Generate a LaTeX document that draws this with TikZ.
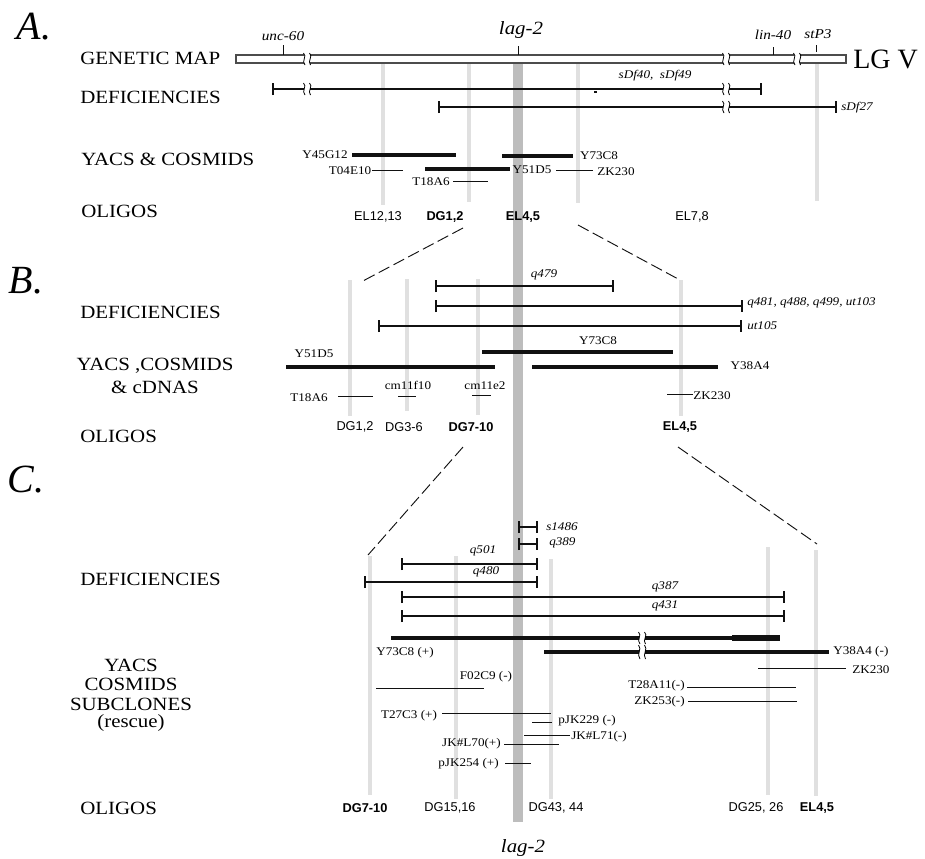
\documentclass[tikz,border=0pt]{standalone}
\usepackage{fontspec}
\setmainfont{Liberation Serif}
\setsansfont{Liberation Sans}
\newfontfamily\palish[FakeStretch=1.12]{Liberation Serif}
\usetikzlibrary{arrows.meta}
\definecolor{lightbar}{HTML}{E0E0E0}
\definecolor{midbar}{HTML}{BDBDBD}
\definecolor{inkline}{HTML}{111111}
\tikzset{
  px/.style={x=0.75pt,y=-0.75pt},
  heading/.style={anchor=west,inner sep=0pt,font=\fontsize{14}{16}\selectfont\palish},
  headc/.style={inner sep=0pt,align=center,font=\fontsize{14}{16}\selectfont\palish},
  letterlab/.style={inner sep=0pt,font=\fontsize{30}{32}\selectfont\itshape},
  genelab/.style={inner sep=0pt,font=\fontsize{10.2}{12}\selectfont\palish\itshape},
  biglab/.style={inner sep=0pt,font=\fontsize{14}{16}\selectfont\palish\itshape},
  dellab/.style={inner sep=0pt,font=\fontsize{8.8}{10}\selectfont\palish\itshape},
  clonelab/.style={inner sep=0pt,font=\fontsize{8.8}{10}\selectfont\palish},
  oligo/.style={inner sep=0pt,font=\fontsize{9.6}{11}\selectfont\sffamily},
  oligob/.style={oligo,font=\fontsize{9.6}{11}\selectfont\sffamily\bfseries},
  lbar/.style={line width=3pt,lightbar},
  cbar/.style={line width=8pt,midbar},
  defline/.style={line width=1.2pt,inkline},
  defends/.style={defline,{Bar[width=9pt,line width=1.5pt]}-{Bar[width=9pt,line width=1.5pt]}},
  thick clone/.style={line width=3pt,inkline},
  thin clone/.style={line width=0.7pt,inkline},
  zoomdash/.style={line width=0.7pt,dash pattern=on 9pt off 3.5pt,inkline},
  tickmark/.style={line width=0.6pt,inkline},
  mapbox/.style={line width=0.8pt,draw=black!70,fill=white},
}
\newcommand{\gapmark}[3]{% x, y, half height
  \fill[white] (#1-3,#2-#3) rectangle (#1+3,#2+#3);
  \draw[line width=0.6pt,black] (#1-3.5,#2-#3) .. controls (#1+0.5,#2-#3*0.4) and (#1-6,#2+#3*0.3) .. (#1-2,#2+#3);
  \draw[line width=0.6pt,black] (#1+2.5,#2-#3) .. controls (#1+6.5,#2-#3*0.4) and (#1,#2+#3*0.3) .. (#1+3.5,#2+#3);
}
\begin{document}
\begin{tikzpicture}[px]
\useasboundingbox (0,0) rectangle (925,858);
% central bar and oligo bars
\draw[cbar] (518,63) -- (518,822);
\foreach \x/\t/\b in {383/63/205,469/63/202,578/63/203,817/63/201,
  350/280/416,407/279/411,478/279/415,681/280/416,
  370/556/795,456/556/799,551/559/799,768/547/795,816/550/796}
  \draw[lbar] (\x,\t) -- (\x,\b);
% Panel A
\node[letterlab] (la) at (34,27) {A.};
\node[heading] (h1) at (80,58) {GENETIC MAP};
\node[heading] (h2) at (80,97) {DEFICIENCIES};
\node[heading] (h3) at (81,159) {YACS \& COSMIDS};
\node[heading] (h4) at (81,211) {OLIGOS};
\draw[mapbox] (236,55) rectangle (846,63);
\gapmark{307}{59}{6}\gapmark{726}{59}{6}\gapmark{797}{59}{6}
\draw[tickmark] (283,45) -- (283,55);
\draw[tickmark] (518,46) -- (518,55);
\draw[tickmark] (773,47) -- (773,55);
\draw[tickmark] (816,45) -- (816,52);
\node[genelab] (g1) at (283,36) {unc-60};
\node[biglab] (g2) at (521,30) {lag-2};
\node[genelab] (g3) at (773,35) {lin-40};
\node[genelab] (g4) at (818,34) {stP3};
\node[inner sep=0pt,anchor=west,font=\fontsize{21}{23}\selectfont] (lgv) at (853,59) {LG V};
\draw[defends] (272,89) -- (762,89);
\draw[line width=1.8pt,inkline] (500,89) -- (533,89);
\draw[defends] (438,107) -- (837,107);
\draw[line width=1.8pt,inkline] (455,107) -- (484,107) (601,107) -- (672,107);
\fill[inkline] (594,91) rectangle (597,93);
\gapmark{307}{89}{6}\gapmark{726}{89}{6}\gapmark{726}{107}{6}
\node[dellab] (d1) at (655,76) {sDf40,\ \ sDf49};
\node[dellab,anchor=west] (d2) at (841,108) {sDf27};
\draw[thick clone] (352,155) -- (456,155);
\draw[thick clone] (502,156) -- (573,156);
\draw[thick clone] (425,169) -- (510,169);
\draw[thin clone] (372,170) -- (403,170);
\draw[thin clone] (556,170) -- (593,170);
\draw[thin clone] (453,181) -- (488,181);
\node[clonelab] (a1) at (325,155) {Y45G12};
\node[clonelab] (a2) at (350,171) {T04E10};
\node[clonelab] (a3) at (431,182) {T18A6};
\node[clonelab] (a4) at (532,170) {Y51D5};
\node[clonelab] (a5) at (599,156) {Y73C8};
\node[clonelab] (a6) at (616,172) {ZK230};
\node[oligo] (o1) at (378,217) {EL12,13};
\node[oligob] (o2) at (445,217) {DG1,2};
\node[oligob] (o3) at (523,217) {EL4,5};
\node[oligo] (o4) at (692,217) {EL7,8};
% zoom lines A-B
\coordinate (za1) at (463,228); \coordinate (za2) at (361,282);
\coordinate (zb1) at (578,225); \coordinate (zb2) at (680,280);
\draw[zoomdash] (za1) -- (za2);
\draw[zoomdash] (zb1) -- (zb2);
% Panel B
\node[letterlab] (lb) at (26,281) {B.};
\node[heading] (h5) at (80,312) {DEFICIENCIES};
\node[headc] (h6) at (155,366) {YACS ,COSMIDS};
\node[headc] (h7) at (155,387) {\& cDNAS};
\node[heading] (h8) at (80,436) {OLIGOS};
\draw[defends] (435,286) -- (614,286);
\draw[defends] (435,306) -- (743,306);
\draw[defends] (378,326) -- (742,326);
\node[dellab] (d3) at (544,275) {q479};
\node[dellab,anchor=west] (d4) at (747,303) {q481, q488, q499, ut103};
\node[dellab,anchor=west] (d5) at (747,326) {ut105};
\draw[thick clone] (482,352) -- (673,352);
\draw[thick clone] (286,367) -- (495,367);
\draw[thick clone] (532,367) -- (718,367);
\draw[thin clone] (338,396) -- (373,396);
\draw[thin clone] (398,396) -- (416,396);
\draw[thin clone] (472,395) -- (491,395);
\draw[thin clone] (667,394) -- (693,394);
\node[clonelab] (b1) at (598,341) {Y73C8};
\node[clonelab] (b2) at (314,354) {Y51D5};
\node[clonelab] (b3) at (750,366) {Y38A4};
\node[clonelab] (b4) at (309,398) {T18A6};
\node[clonelab] (b5) at (408,385) {cm11f10};
\node[clonelab] (b6) at (485,386) {cm11e2};
\node[clonelab] (b7) at (712,396) {ZK230};
\node[oligo] (o5) at (355,427) {DG1,2};
\node[oligo] (o6) at (404,427) {DG3-6};
\node[oligob] (o7) at (471,427) {DG7-10};
\node[oligob] (o8) at (680,427) {EL4,5};
% zoom lines B-C
\coordinate (zc1) at (463,447); \coordinate (zc2) at (368,555);
\coordinate (zd1) at (678,447); \coordinate (zd2) at (817,544);
\draw[zoomdash] (zc1) -- (zc2);
\draw[zoomdash] (zd1) -- (zd2);
% Panel C
\node[letterlab] (lc) at (26,480) {C.};
\node[heading] (h9) at (80,579) {DEFICIENCIES};
\node[headc] (h10) at (131,665) {YACS};
\node[headc] (h11) at (131,684) {COSMIDS};
\node[headc] (h12) at (131,704) {SUBCLONES};
\node[headc] (h13) at (131,723) {(rescue)};
\node[heading] (h14) at (80,808) {OLIGOS};
\draw[defends] (518,527) -- (538,527);
\draw[defends] (518,544) -- (538,544);
\draw[defends] (401,564) -- (538,564);
\draw[defends] (364,582) -- (538,582);
\draw[defends] (401,597) -- (785,597);
\draw[defends] (401,616) -- (785,616);
\node[dellab,anchor=west] (d6) at (546,527) {s1486};
\node[dellab,anchor=west] (d7) at (549,543) {q389};
\node[dellab] (d8) at (483,551) {q501};
\node[dellab] (d9) at (486,572) {q480};
\node[dellab] (d10) at (665,587) {q387};
\node[dellab] (d11) at (665,606) {q431};
\draw[thick clone] (391,638) -- (780,638);
\draw[line width=3.8pt,inkline] (732,638) -- (780,638);
\draw[thick clone] (544,652) -- (829,652);
\gapmark{642}{638}{6}\gapmark{642}{652}{7}
\draw[thin clone] (758,668) -- (846,668);
\draw[thin clone] (687,687) -- (796,687);
\draw[thin clone] (688,701) -- (797,701);
\draw[thin clone] (376,688) -- (484,688);
\draw[thin clone] (442,713) -- (551,713);
\draw[thin clone] (532,722) -- (552,722);
\draw[thin clone] (524,735) -- (570,735);
\draw[thin clone] (504,744) -- (559,744);
\draw[thin clone] (505,763) -- (531,763);
\node[clonelab] (c1) at (405,653) {Y73C8 (+)};
\node[clonelab,anchor=west] (c2) at (833,652) {Y38A4 (-)};
\node[clonelab,anchor=west] (c3) at (852,670) {ZK230};
\node[clonelab,anchor=east] (c4) at (685,686) {T28A11(-)};
\node[clonelab,anchor=east] (c5) at (685,702) {ZK253(-)};
\node[clonelab] (c6) at (486,677) {F02C9 (-)};
\node[clonelab] (c7) at (409,716) {T27C3 (+)};
\node[clonelab] (c8) at (587,721) {pJK229 (-)};
\node[clonelab,anchor=west] (c9) at (571,737) {JK\#L71(-)};
\node[clonelab,anchor=east] (c10) at (501,744) {JK\#L70(+)};
\node[clonelab,anchor=east] (c11) at (499,764) {pJK254 (+)};
\node[oligob] (o9) at (365,808) {DG7-10};
\node[oligo] (o10) at (450,808) {DG15,16};
\node[oligo] (o11) at (556,808) {DG43, 44};
\node[oligo] (o12) at (756,808) {DG25, 26};
\node[oligob] (o13) at (817,808) {EL4,5};
\node[biglab] (g5) at (523,848) {lag-2};
\end{tikzpicture}
\end{document}
